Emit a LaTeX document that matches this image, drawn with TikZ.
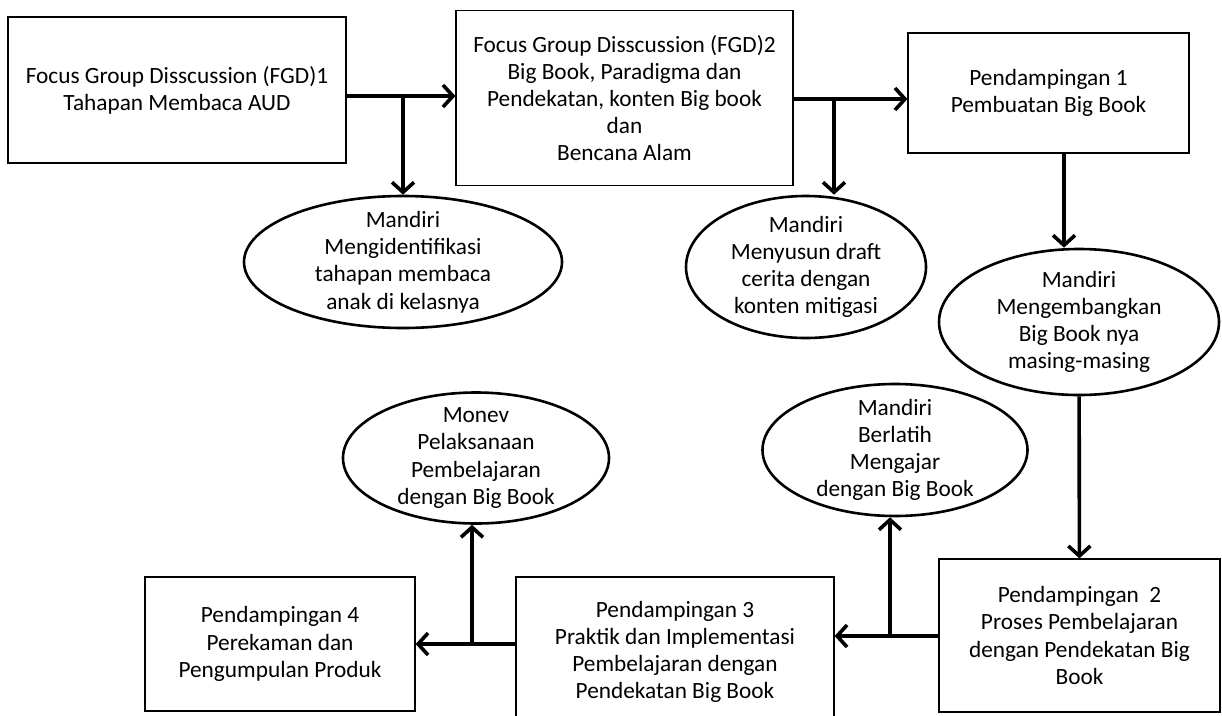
\documentclass[tikz,border=0pt]{standalone}
\usepackage{fontspec}
\setmainfont{Carlito}
\usepackage{tikz}
\usetikzlibrary{arrows.meta,positioning,shapes.geometric}

\begin{document}
\begin{tikzpicture}[x=1pt,y=-1pt,>={Straight Barb[length=10pt,width=22pt]},
        kotak/.style={draw,line width=1.2pt,align=center,inner sep=0pt,font=\fontsize{23.3}{27.2}\selectfont},
        elips/.style={draw,ellipse,line width=2.6pt,align=center,inner sep=-60pt,font=\fontsize{23.3}{27.2}\selectfont},
        panah/.style={->,line width=3.6pt}]
    \useasboundingbox (0,0) rectangle (1222,715);
        % baris atas
        \node[kotak,minimum width=338pt,minimum height=146pt] (fgd1) at (177,90) {Focus Group Disscussion (FGD)1\\Tahapan Membaca AUD};
        \node[kotak,minimum width=337pt,minimum height=175pt] (fgd2) at (624.5,98) {Focus Group Disscussion (FGD)2\\Big Book, Paradigma dan\\Pendekatan, konten Big book\\dan\\Bencana Alam};
        \node[kotak,minimum width=281pt,minimum height=120pt] (p1) at (1048.5,93) {Pendampingan 1\\Pembuatan Big Book};
        \node[elips,minimum width=318pt,minimum height=132pt] (m1) at (403,262) {Mandiri\\Mengidentifikasi\\tahapan membaca\\anak di kelasnya};
        \node[elips,minimum width=240pt,minimum height=142pt] (m2) at (806,267) {Mandiri\\Menyusun draft\\cerita dengan\\konten mitigasi};
        \node[elips,minimum width=280pt,minimum height=146pt] (m3) at (1079,322) {Mandiri\\Mengembangkan\\Big Book nya\\masing-masing};
        % baris bawah
        \node[elips,minimum width=266pt,minimum height=131pt] (m5) at (476,458) {Monev\\Pelaksanaan\\Pembelajaran\\dengan Big Book};
        \node[elips,minimum width=265pt,minimum height=132pt] (m4) at (895,450) {Mandiri\\Berlatih\\Mengajar\\dengan Big Book};
        \node[kotak,minimum width=270pt,minimum height=134pt] (p4) at (280,644) {Pendampingan 4\\Perekaman dan\\Pengumpulan Produk};
        \node[kotak,minimum width=318pt,minimum height=150pt] (p3) at (675,652) {Pendampingan 3\\Praktik dan Implementasi\\Pembelajaran dengan\\Pendekatan Big Book};
        \node[kotak,minimum width=281pt,minimum height=153pt] (p2) at (1079.5,635.5) {Pendampingan\ \ 2\\Proses Pembelajaran\\dengan Pendekatan Big\\Book};
        % titik cabang
        \coordinate (j1) at (m1.north |- 0,96);
        \coordinate (j2) at (834,99);
        \coordinate (k1) at (1064,0);
        \coordinate (j3) at (890,636);
        \coordinate (j4) at (472,644);
        \draw[panah] (fgd1.east |- j1) -- (fgd2.west |- j1);
        \draw[panah] (j1) -- (m1.north);
        \draw[panah] (fgd2.east |- j2) -- (p1.west |- j2);
        \draw[panah] (j2) -- (j2 |- m2.north);
        \draw[panah] (p1.south -| k1) -- (m3.north -| k1);
        \draw[panah] (m3) -- (p2);
        \draw[panah] (p2.west |- j3) -- (p3.east |- j3);
        \draw[panah] (j3) -- (j3 |- m4.south);
        \draw[panah] (p3.west |- j4) -- (p4.east |- j4);
        \draw[panah] (j4) -- (j4 |- m5.south);
    \end{tikzpicture}
\end{document}
